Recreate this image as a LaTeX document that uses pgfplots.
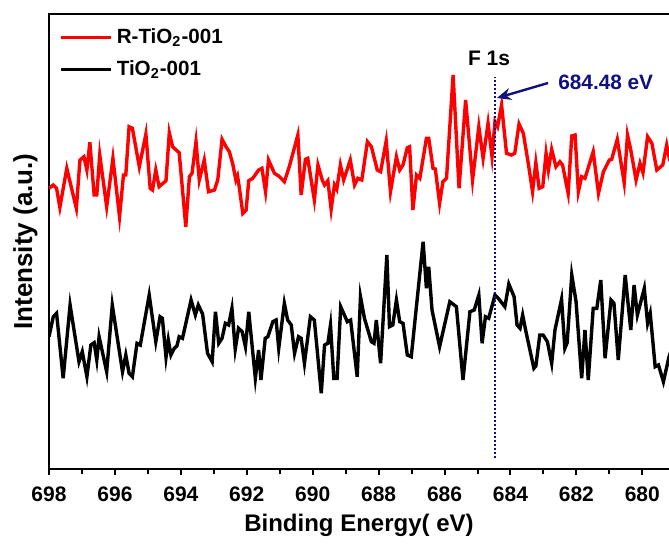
\documentclass[border=0pt]{standalone}
\usepackage{fontspec}
\setmainfont{Liberation Sans}
\usepackage{pgfplots}
\pgfplotsset{compat=1.18}
\usetikzlibrary{arrows.meta}
\definecolor{navy}{RGB}{16,16,128}
\begin{document}
\begin{tikzpicture}
\begin{axis}[
  at={(0pt,0pt)}, anchor=south west,
  scale only axis, width=311pt, height=227.5pt,
  xmin=679.13, xmax=698, x dir=reverse, ymin=0, ymax=455,
  axis line style={line width=1.2pt},
  xtick={680,682,...,698}, minor xtick={681,683,...,697}, ytick=\empty,
  xtick pos=left, tick align=outside,
  major tick length=3pt, minor tick length=2.5pt,
  every tick/.style={black, line width=1pt},
  /pgf/number format/assume math mode=true,
  xticklabel style={font=\fontsize{10.5}{12}\selectfont\bfseries, yshift=-2.5pt},
  xlabel={Binding Energy( eV)},
  xlabel style={at={(axis description cs:0.4984,0)}, anchor=base, yshift=-31pt, font=\fontsize{12}{14}\selectfont\bfseries},
  ylabel={Intensity (a.u.)},
  ylabel style={at={(axis description cs:-0.038,0.5)}, anchor=center, font=\fontsize{13}{15}\selectfont\bfseries},
  legend style={draw=none, fill=none, at={(axis description cs:0,1)}, anchor=north west, xshift=2pt, yshift=-3pt, font=\fontsize{10.3}{12}\selectfont\bfseries, row sep=3pt},
  legend cell align=left,
  legend image code/.code={\draw[#1] (0pt,0pt) -- (25pt,0pt);},
]
\addplot[red, line width=1.7pt] table {
698.00 280.7
697.87 284
697.77 280.7
697.67 261.7
697.46 300.7
697.17 260.7
697.06 309
696.94 312.3
696.85 299
696.76 326.7
696.63 274
696.55 274
696.46 314
696.25 262.3
696.06 310.7
695.86 252.3
695.74 294
695.67 294
695.57 342.3
695.47 340.7
695.26 302.3
695.06 335
694.93 280.7
694.86 279
694.76 299
694.66 282.3
694.45 288.3
694.35 336.3
694.25 322.3
694.05 316.3
693.85 242.3
693.74 292.3
693.66 295.7
693.54 327.3
693.44 289
693.29 309
693.16 277.3
692.98 279
692.88 289
692.75 329.7
692.63 322.3
692.53 317.3
692.43 305.7
692.33 289
692.28 293
692.23 282.3
692.12 255.7
692.02 259
691.94 288.3
691.82 290.7
691.64 299
691.54 300.7
691.43 277.3
691.34 309
691.16 295.7
691.03 293
690.86 287.3
690.71 302.3
690.45 334
690.35 274
690.22 309.7
690.15 310.7
689.95 269
689.84 304
689.71 289
689.64 284
689.54 288.3
689.44 259.7
689.34 284
689.27 279.7
689.16 304
689.06 289
688.86 309
688.73 284
688.63 290.7
688.51 289
688.34 327.3
688.22 322.3
688.04 299
687.94 297.3
687.77 328
687.64 277.3
687.46 312.3
687.36 299
687.26 304
687.13 321.3
687.06 322.3
686.96 259
686.85 294
686.75 290.7
686.55 330.7
686.48 330.7
686.35 300.7
686.28 300
686.15 265.7
686.05 287.3
685.94 290.7
685.74 394
685.56 280.7
685.36 369
685.15 289
684.96 342.3
684.83 310.7
684.68 345.7
684.56 312.3
684.47 347.3
684.39 342.3
684.27 364
684.12 315.7
683.97 314
683.87 315.7
683.74 345
683.61 335.7
683.46 305.7
683.33 277.3
683.23 306.3
683.13 280.7
683.02 282.3
682.92 315.7
682.85 299
682.75 319.7
682.62 302.3
682.50 307.3
682.42 304
682.25 275.7
682.14 333
682.04 334
681.94 277.3
681.84 292.3
681.74 290.7
681.49 317.3
681.33 275.7
681.18 297.3
681.00 309
680.93 309.7
680.76 329.7
680.55 286.3
680.45 334
680.35 319
680.19 289
680.07 305.7
679.98 296.3
679.84 332.3
679.71 325.7
679.56 299
679.38 304
679.26 324
679.19 312.3
679.13 316
};
\addlegendentry{R-TiO\textsubscript{2}-001}
\addplot[black, line width=1.7pt] table {
698.00 132.3
697.87 152.3
697.77 155.7
697.57 90.7
697.36 164
697.09 107.3
696.99 117.3
696.85 92.3
696.73 124
696.63 126.3
696.55 109
696.48 132.3
696.25 97.3
696.08 164
695.77 97.3
695.67 114
695.57 95.7
695.47 92.3
695.33 125.7
695.23 124
694.96 174
694.76 127.3
694.63 152.3
694.56 150.7
694.45 111.7
694.38 129
694.30 114
694.20 120.7
694.12 123
694.05 132.3
693.95 130.7
693.69 169
693.56 154
693.47 164
693.34 155
693.19 115.7
693.05 107.3
692.95 157.3
692.85 125.7
692.75 130.7
692.65 145.7
692.55 144
692.45 160.7
692.35 119.7
692.25 140.7
692.14 137.3
692.04 122.3
691.94 157.3
691.74 90.7
691.64 119
691.57 89
691.44 130.7
691.36 132.3
691.21 147.3
691.11 149
691.03 120.7
690.86 165.7
690.76 149
690.65 144
690.55 115.7
690.43 132.3
690.35 130.7
690.25 105.7
690.07 152.3
689.95 149
689.74 75.7
689.64 124
689.54 125.7
689.46 144
689.36 90.7
689.26 90.7
689.15 162.3
688.95 147.3
688.85 149
688.65 92.3
688.55 172.3
688.43 150.7
688.22 127.3
688.14 125.7
688.07 149
687.94 105.7
687.75 214
687.67 142.3
687.57 144
687.46 169
687.36 147.3
687.26 145.7
687.13 114
687.01 112.3
686.65 227.3
686.55 180.7
686.48 202.3
686.38 159
686.15 122.3
685.84 167.3
685.64 162.3
685.44 89
685.23 157.3
685.10 159
684.96 174
684.86 125.7
684.76 152.3
684.66 150.7
684.47 174
684.37 170.7
684.17 162.3
684.05 185
683.89 172.3
683.80 144
683.71 140.7
683.63 154
683.53 137.3
683.29 100.7
683.23 103
683.11 134
683.01 134
682.88 127.3
682.75 105.7
682.65 139
682.45 169.7
682.35 120.7
682.28 126.3
682.14 194
682.01 167.3
681.84 90.7
681.74 139
681.64 89
681.49 160.7
681.38 160.7
681.26 189
681.13 110.7
680.95 169
680.86 165.7
680.73 109
680.52 194
680.35 139
680.25 184
680.15 154
679.94 180.7
679.84 145.7
679.76 155.7
679.61 102.3
679.51 104
679.36 87.3
679.19 112.3
679.13 118
};
\addlegendentry{TiO\textsubscript{2}-001}
\addplot[navy, line width=1.1pt, dash pattern=on 1pt off 1pt, forget plot] coordinates {(684.48,11) (684.48,392)};
\node[font=\fontsize{10.5}{12}\selectfont\bfseries, black] at (axis cs:684.65,411) {F 1s};
\node[font=\fontsize{10.4}{12}\selectfont\bfseries, text=navy] at (axis cs:681.11,387) {684.48 eV};
\draw[navy, line width=1.2pt, -{Stealth[length=7pt,width=6pt]}] (axis cs:682.86,386) -- (axis cs:684.41,371);
\end{axis}
\draw[black, line width=1.4pt] (-0.6pt,227.5pt) -- (312pt,227.5pt);
\pgfresetboundingbox
\useasboundingbox (-24.5pt,-37pt) rectangle (310pt,234.5pt);
\end{tikzpicture}
\end{document}
